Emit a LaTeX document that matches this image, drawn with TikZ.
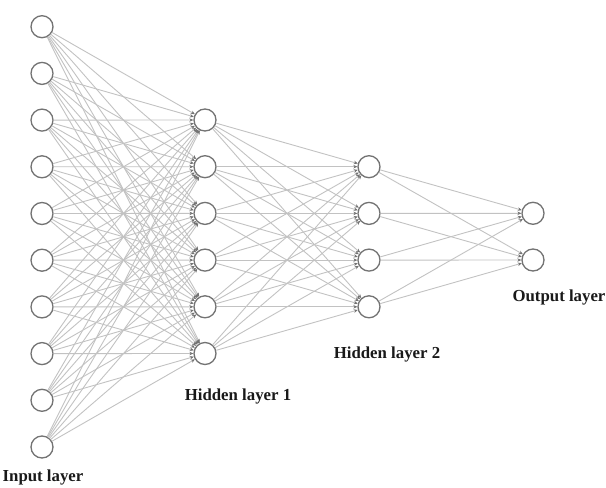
\documentclass[tikz,border=0pt]{standalone}
\usepackage{fontspec}
\setmainfont{Liberation Serif}
\usetikzlibrary{arrows.meta}
\begin{document}
\begin{tikzpicture}[x=1pt,y=-1pt,
  neuron/.style={circle,draw=black!55,line width=1.3pt,fill=white,minimum size=22pt,inner sep=0pt},
  conn/.style={draw=black!24,line width=0.9pt,-{Stealth[length=4pt,width=3.5pt,color=black!55]}},
  lbl/.style={font=\bfseries\fontsize{16.8}{20}\selectfont,text=black!90}]
\useasboundingbox (0,0) rectangle (606,488);
\foreach \i in {1,...,10} \node[neuron] (i\i) at (42,{26.7+(\i-1)*46.7}) {};
\foreach \i in {1,...,6} \node[neuron] (h\i) at (205,{120+(\i-1)*46.7}) {};
\foreach \i in {1,...,4} \node[neuron] (k\i) at (369,{166.7+(\i-1)*46.7}) {};
\foreach \i in {1,2} \node[neuron] (o\i) at (533,{213.3+(\i-1)*46.7}) {};
\foreach \a in {1,...,10} \foreach \b in {1,...,6} \draw[conn] (i\a) -- (h\b);
\foreach \a in {1,...,6} \foreach \b in {1,...,4} \draw[conn] (h\a) -- (k\b);
\foreach \a in {1,...,4} \foreach \b in {1,2} \draw[conn] (k\a) -- (o\b);
\node[lbl] (li) at (43,477) {Input layer};
\node[lbl] (lh1) at (238,396) {Hidden layer 1};
\node[lbl] (lh2) at (387,354) {Hidden layer 2};
\node[lbl] (lo) at (559,297) {Output layer};
\end{tikzpicture}
\end{document}
